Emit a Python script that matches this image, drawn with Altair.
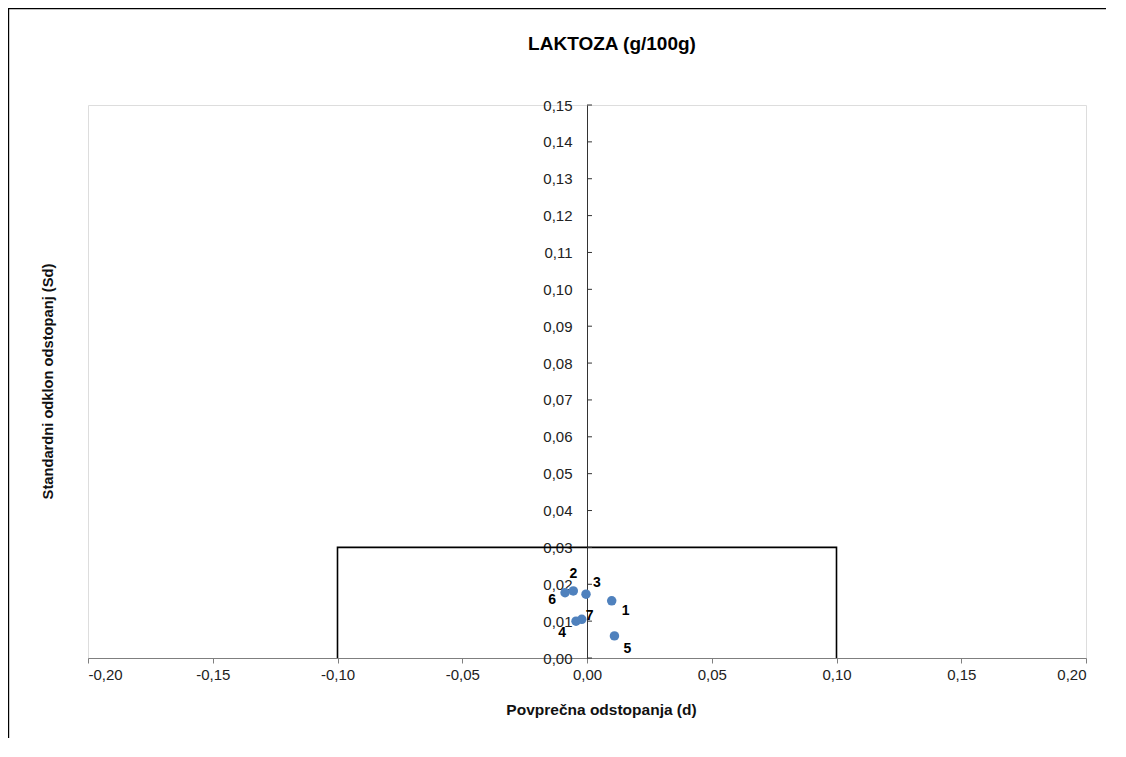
import altair as alt
import pandas as pd

# ---- data ----
labels = ["1", "2", "3", "4", "5", "6", "7"]
d_vals = [0.0099, -0.0055, -0.0004, -0.0044, 0.0110, -0.0088, -0.0021]
sd_vals = [0.0155, 0.0182, 0.0173, 0.0100, 0.0060, 0.0177, 0.0105]

limit_x = [-0.10, -0.10, 0.10, 0.10]
limit_y = [0.00, 0.03, 0.03, 0.00]

x_ticks = [-0.20, -0.15, -0.10, -0.05, 0.00, 0.05, 0.10, 0.15, 0.20]
y_ticks = [0.00, 0.01, 0.02, 0.03, 0.04, 0.05, 0.06, 0.07, 0.08, 0.09,
           0.10, 0.11, 0.12, 0.13, 0.14, 0.15]

title_text = "LAKTOZA (g/100g)"
x_title = "Povprečna odstopanja (d)"
y_title = "Standardni odklon odstopanj (Sd)"

# ---- layout / style ----
FONT = "Liberation Sans"
W, H = 998, 553
PAD = {"left": 80, "top": 97, "right": 20, "bottom": 80}
BLUE = "#4F81BD"

pts = pd.DataFrame({"d": d_vals, "sd": sd_vals, "lab": labels})
lim = pd.DataFrame({"x": limit_x, "y": limit_y, "i": list(range(len(limit_x)))})
yt = pd.DataFrame({"y": y_ticks})
one = pd.DataFrame({"t": [title_text]})

xscale = alt.Scale(domain=[-0.20, 0.20], nice=False, zero=False)
yscale = alt.Scale(domain=[0.0, 0.15], nice=False, zero=False)

comma_fmt = "replace(replace(format(datum.value, '.2f'), '.', ','), '\u2212', '-')"

x_axis = alt.Axis(
    values=x_ticks, labelExpr=comma_fmt, grid=False, labelOverlap=False,
    domainColor="#7f7f7f", tickColor="#7f7f7f", tickSize=5,
    labelFont=FONT, labelFontSize=15, labelColor="#222222", labelPadding=4,
    title=x_title, titleFont=FONT, titleFontSize=15.5, titleFontWeight="bold",
    titleColor="#111111", titleX=513, titleY=44, titleBaseline="top",
    titleAlign="center", titleAnchor="start",
)
y_axis = alt.Axis(
    values=y_ticks, labelExpr=comma_fmt, grid=False, labelOverlap=False,
    ticks=True, tickSize=13, tickOpacity=0, labelPadding=2,
    offset=-(W / 2), domainColor="#333333",
    labelFont=FONT, labelFontSize=15, labelColor="#222222",
    title=y_title, titleFont=FONT, titleFontSize=14.7, titleFontWeight="bold",
    titleColor="#111111", titleX=-539, titleY=276, titleAngle=270,
    titleAlign="center", titleBaseline="middle", titleAnchor="start",
)


def X(field):
    return alt.X(field, type="quantitative", scale=xscale, axis=x_axis)


def Y(field):
    return alt.Y(field, type="quantitative", scale=yscale, axis=y_axis)


base_pts = alt.Chart(pts)

points = base_pts.mark_circle(size=90, color=BLUE, opacity=1).encode(
    x=X("d"), y=Y("sd"),
)

# label placement offsets (px) per point, as Excel placed them
offsets = {"1": (14, 10), "2": (0, -17), "3": (11, -11), "4": (-14, 12),
           "5": (13, 13), "6": (-13, 7), "7": (8, -3)}
label_layers = []
for lab, (dx, dy) in offsets.items():
    label_layers.append(
        base_pts.transform_filter(alt.datum.lab == lab)
        .mark_text(font=FONT, fontSize=14, fontWeight="bold", color="#000000",
                   dx=dx, dy=dy, align="center", baseline="middle")
        .encode(x=X("d"), y=Y("sd"), text="lab:N")
    )

limits = alt.Chart(lim).mark_line(color="#000000", strokeWidth=1.6).encode(
    x=X("x"), y=Y("y"), order="i:Q",
)

yticks = alt.Chart(yt).transform_calculate(x0="0", x1="0.002").mark_rule(
    color="#333333", strokeWidth=1
).encode(
    x=X("x0"), x2="x1:Q", y=Y("y"),
)

title_mark = alt.Chart(one).mark_text(
    font=FONT, fontSize=19, fontWeight="bold", color="#000000",
    align="center", baseline="alphabetic", clip=False,
).encode(x=alt.value(524), y=alt.value(-55), text="t:N")

frame_top = alt.Chart(one).mark_rule(color="#000000", strokeWidth=1.2, clip=False).encode(
    x=alt.value(-PAD["left"]), x2=alt.value(W + PAD["right"]), y=alt.value(-PAD["top"] + 0.6)
)
frame_left = alt.Chart(one).mark_rule(color="#000000", strokeWidth=1.2, clip=False).encode(
    x=alt.value(-PAD["left"] + 0.6), y=alt.value(-PAD["top"]), y2=alt.value(H + PAD["bottom"])
)

chart = alt.layer(
    points, limits, yticks, *label_layers, title_mark, frame_top, frame_left
).properties(
    width=W, height=H,
    padding=PAD,
    autosize=alt.AutoSizeParams(type="none"),
).configure_view(
    stroke="#868686", strokeWidth=1
).configure(background="white")

chart.save("out.html", embed_options={"renderer": "svg", "actions": False})
